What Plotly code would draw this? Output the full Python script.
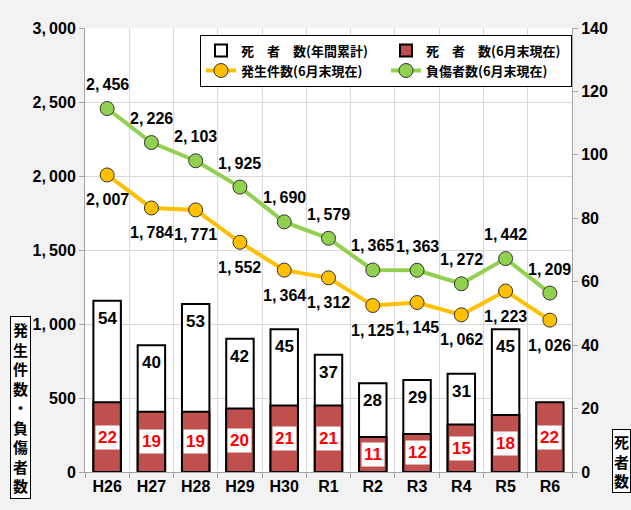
import plotly.graph_objects as go

categories = ["H26", "H27", "H28", "H29", "H30", "R1", "R2", "R3", "R4", "R5", "R6"]
deaths_year = [54, 40, 53, 42, 45, 37, 28, 29, 31, 45, None]
deaths_june = [22, 19, 19, 20, 21, 21, 11, 12, 15, 18, 22]
accidents_june = [2007, 1784, 1771, 1552, 1364, 1312, 1125, 1145, 1062, 1223, 1026]
injured_june = [2456, 2226, 2103, 1925, 1690, 1579, 1365, 1363, 1272, 1442, 1209]
left_ticks = [0, 500, 1000, 1500, 2000, 2500, 3000]
right_ticks = [0, 20, 40, 60, 80, 100, 120, 140]

FONT = "Liberation Sans, Noto Sans CJK JP, sans-serif"
JP = "Noto Sans CJK JP"
xs = list(range(len(categories)))

def fmt(v):
    return "{:,}".format(v).replace(",", ",\u2009")

fig = go.Figure()
fig.add_trace(go.Bar(
    x=xs, y=deaths_year, name="死　者　数(年間累計)", width=0.62,
    marker=dict(color="white", line=dict(color="black", width=2)),
    yaxis="y", hoverinfo="skip"))
fig.add_trace(go.Bar(
    x=xs, y=deaths_june, name="死　者　数(6月末現在)", width=0.62,
    marker=dict(color="#C0504D", line=dict(color="black", width=2)),
    yaxis="y", hoverinfo="skip"))
fig.add_trace(go.Scatter(
    x=xs, y=accidents_june, name="発生件数(6月末現在)", mode="lines+markers",
    line=dict(color="#FFC000", width=4),
    marker=dict(size=14, color="#FFC000", line=dict(color="#333333", width=1)),
    yaxis="y2", hoverinfo="skip"))
fig.add_trace(go.Scatter(
    x=xs, y=injured_june, name="負傷者数(6月末現在)", mode="lines+markers",
    line=dict(color="#92D050", width=4),
    marker=dict(size=14, color="#92D050", line=dict(color="#333333", width=1)),
    yaxis="y2", hoverinfo="skip"))

num_font = dict(family=FONT, size=16, color="black", weight="bold")
annotations = []
for i, v in enumerate(deaths_year):
    if v is not None:
        annotations.append(dict(x=i, y=v, xref="x", yref="y", text=str(v),
                                showarrow=False, yanchor="top", yshift=-6,
                                font=dict(family=FONT, size=17, color="black", weight="bold")))
for i, v in enumerate(deaths_june):
    annotations.append(dict(
        x=i, y=v / 2, xref="x", yref="y", text=str(v), showarrow=False,
        bgcolor="white", font=dict(family=FONT, size=17, color="red", weight="bold"),
        borderpad=2))
for i, v in enumerate(accidents_june):
    annotations.append(dict(x=i, y=v, xref="x", yref="y2", text=fmt(v), showarrow=False,
                            yshift=-25, font=num_font))
for i, v in enumerate(injured_june):
    annotations.append(dict(x=i, y=v, xref="x", yref="y2", text=fmt(v), showarrow=False,
                            yshift=24, font=num_font))
annotations.append(dict(
    x=-0.133, y=0.146, xref="paper", yref="paper", xanchor="center", yanchor="middle",
    text="<br>".join("発生件数・負傷者数"), showarrow=False,
    bgcolor="white", bordercolor="black", borderwidth=1, borderpad=2,
    font=dict(family=JP, size=15, color="black", weight="bold")))
annotations.append(dict(
    x=1.082, y=0.025, xref="paper", yref="paper", xanchor="left", yanchor="middle",
    text="<br>".join("死者数"), showarrow=False,
    bgcolor="white", bordercolor="black", borderwidth=1, borderpad=1,
    font=dict(family=JP, size=15, color="black", weight="bold")))

fig.update_layout(
    width=631, height=510,
    margin=dict(l=85, r=59, t=28, b=38),
    paper_bgcolor="#F2F2F2", plot_bgcolor="white",
    barmode="overlay", showlegend=True,
    font=dict(family=FONT, size=16, color="black"),
    legend=dict(orientation="h", x=1.0, y=0.985, xanchor="right", yanchor="top",
                bgcolor="white", bordercolor="black", borderwidth=1,
                entrywidth=140, tracegroupgap=0, itemwidth=30,
                font=dict(family=JP, size=13, color="black", weight="bold")),
    xaxis=dict(range=[-0.5, len(categories) - 0.5], tickvals=xs, ticktext=categories,
               showgrid=False, ticks="", showline=True, linecolor="#A6A6A6",
               tickfont=dict(family=FONT, size=16, weight="bold"),
               minor=dict(tick0=0.5, dtick=1, showgrid=True, gridcolor="#D9D9D9",
                          ticks="outside", ticklen=5, tickcolor="#A6A6A6")),
    yaxis=dict(range=[0, 140], tickvals=right_ticks, side="right", showgrid=False,
               showline=True, linecolor="#A6A6A6", ticks="outside", ticklen=5,
               tickcolor="#A6A6A6", tickfont=dict(family=FONT, size=16, weight="bold")),
    yaxis2=dict(range=[0, 3000], tickvals=left_ticks, ticktext=[fmt(v) for v in left_ticks],
                side="left", overlaying="y", showgrid=True, gridcolor="#D9D9D9",
                showline=True, linecolor="#A6A6A6", ticks="outside", ticklen=5,
                tickcolor="#A6A6A6", tickfont=dict(family=FONT, size=16, weight="bold"),
                zeroline=False),
    annotations=annotations,
)
fig.write_html("out.html", config={"displayModeBar": False},
               post_script="document.body.style.margin='0';document.body.style.background='#F2F2F2';")
